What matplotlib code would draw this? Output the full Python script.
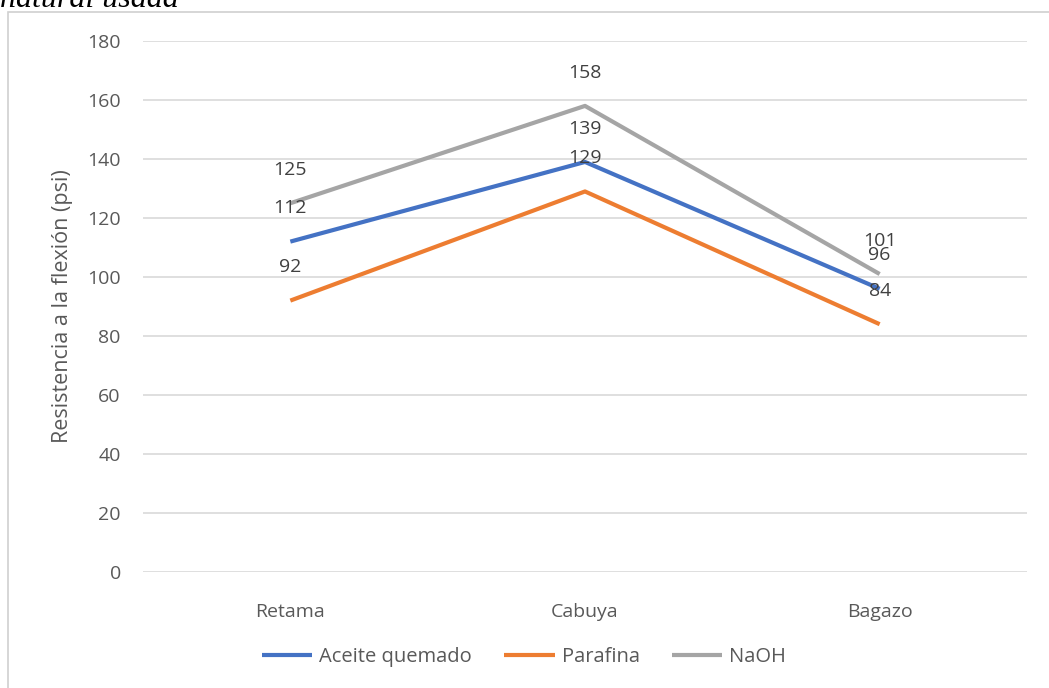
import matplotlib.pyplot as plt
from matplotlib.patches import Rectangle

categories = ['Retama', 'Cabuya', 'Bagazo']
aceite = [112, 139, 96]
parafina = [92, 129, 84]
naoh = [125, 158, 101]
series = [('Aceite quemado', aceite, '#4472C4'),
          ('Parafina', parafina, '#ED7D31'),
          ('NaOH', naoh, '#A5A5A5')]
yticks = list(range(0, 181, 20))

plt.rcParams['font.family'] = ['Open Sans', 'DejaVu Sans']

fig = plt.figure(figsize=(10.49, 6.88), dpi=100)
W, H = 1049, 688

# outer chart border (runs off the right and bottom of the picture)
fig.patches.append(Rectangle((8 / W, -0.1), 1.2, 1 - 12 / H + 0.1,
                             transform=fig.transFigure, fill=False,
                             edgecolor='#D0D0D0', linewidth=1.2))
# cut-off caption above the chart
fig.text(0 / W, 1 - 7 / H, 'natural usada', family='Liberation Serif',
         style='italic', fontsize=23, ha='left', va='baseline')

ax = fig.add_axes([143 / W, 1 - 572 / H, (1027 - 143) / W, (572 - 41) / H])
x = list(range(len(categories)))
for name, vals, col in series:
    ax.plot(x, vals, color=col, linewidth=3, label=name, solid_capstyle='butt')
    for xi, v in zip(x, vals):
        ax.annotate(str(v), (xi, v), xytext=(0, 24), textcoords='offset points',
                    ha='center', va='center', fontsize=14, color='#404040')

ax.set_xlim(-0.5, 2.5)
ax.set_ylim(0, 180)
ax.set_yticks(yticks)
ax.set_xticks(x)
ax.set_xticklabels(categories)
ax.grid(axis='y', color='#D9D9D9', linewidth=1.2)
ax.set_axisbelow(True)
for s in ax.spines.values():
    s.set_visible(False)
ax.tick_params(length=0, labelsize=14, colors='#595959', pad=16)
ax.tick_params(axis='x', pad=22)
ax.set_ylabel('Resistencia a la flexión (psi)', fontsize=15.5, color='#595959',
              labelpad=10)

fig.legend(loc='center', bbox_to_anchor=(524 / W, 1 - 657 / H), ncol=3,
           frameon=False, fontsize=14.5, handlelength=2.5, columnspacing=1.6,
           handletextpad=0.35, labelcolor='#595959')

fig.savefig('out.png', dpi=100)
